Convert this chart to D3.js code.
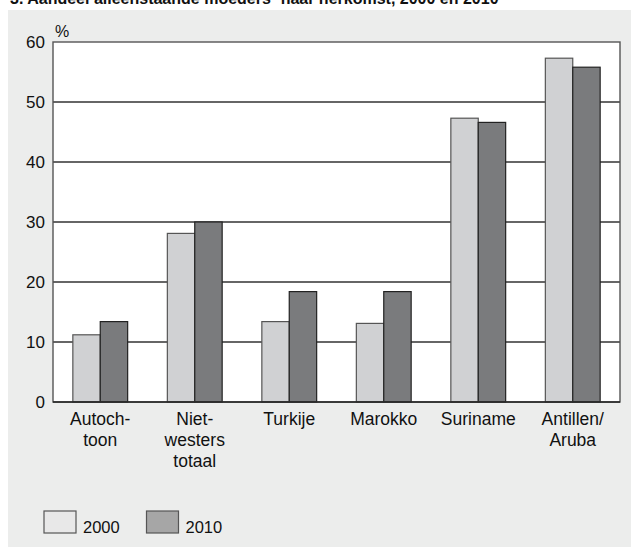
<!DOCTYPE html>
<html><head><meta charset="utf-8">
<script src="https://cdn.jsdelivr.net/npm/d3@7"></script>
<style>body{margin:0;background:#fff;}svg{display:block;font-family:"Liberation Sans",Arial,sans-serif;}</style>
</head><body>
<svg id="c" width="631" height="547"></svg>
<script>
const categories = [["Autoch-","toon"],["Niet-","westers","totaal"],["Turkije"],["Marokko"],["Suriname"],["Antillen/","Aruba"]];
const series = ["2000","2010"];
const values2000 = [11.2, 28.1, 13.4, 13.1, 47.3, 57.3];
const values2010 = [13.4, 30.0, 18.4, 18.4, 46.6, 55.8];
const yTicks = [0,10,20,30,40,50,60];

const svg = d3.select("#c");
svg.append("text").attr("x",10).attr("y",4).attr("font-weight","bold").attr("font-size",16).attr("fill","#111")
  .text("3. Aandeel alleenstaande moeders¹ naar herkomst, 2000 en 2010");
svg.append("rect").attr("x",8).attr("y",10).attr("width",623).attr("height",537).attr("fill","#ecedec");

const L=53,R=620,T=42,B=402;
const x0 = d3.scaleBand().domain(d3.range(categories.length)).range([L,R]).paddingInner(0.42).paddingOuter(0.21);
const x1 = d3.scaleBand().domain(series).range([0,x0.bandwidth()]);
const y = d3.scaleLinear().domain([0,60]).range([B,T]);

svg.append("rect").attr("x",L).attr("y",T).attr("width",R-L).attr("height",B-T).attr("fill","#fff");
svg.append("g").selectAll("line").data(yTicks.filter(d=>d>0&&d<60)).join("line")
  .attr("x1",L).attr("x2",R).attr("y1",d=>y(d)).attr("y2",d=>y(d)).attr("stroke","#333").attr("stroke-width",1.3);

const fills = {"2000":"#d0d1d3","2010":"#7a7b7d"};
const strokes = {"2000":"#555","2010":"#222"};
const rows = categories.map((c,i)=>({i, vals:[{s:"2000",v:values2000[i]},{s:"2010",v:values2010[i]}]}));
const g = svg.append("g").selectAll("g").data(rows).join("g").attr("transform",d=>`translate(${x0(d.i)},0)`);
g.selectAll("rect").data(d=>d.vals).join("rect")
  .attr("x",d=>x1(d.s)).attr("width",x1.bandwidth()).attr("y",d=>y(d.v)).attr("height",d=>y(0)-y(d.v))
  .attr("fill",d=>fills[d.s]).attr("stroke",d=>strokes[d.s]).attr("stroke-width",1.2);

svg.append("rect").attr("x",L).attr("y",T).attr("width",R-L).attr("height",B-T).attr("fill","none").attr("stroke","#555").attr("stroke-width",1.4);
svg.append("line").attr("x1",L).attr("x2",R).attr("y1",B).attr("y2",B).attr("stroke","#222").attr("stroke-width",1.6);

const yAxis = d3.axisLeft(y).tickValues(yTicks).tickSize(0).tickPadding(8);
const ya = svg.append("g").attr("transform",`translate(${L},0)`).call(yAxis);
ya.select(".domain").remove();
ya.selectAll("text").attr("font-size",17).attr("fill","#111").attr("font-family","Liberation Sans, Arial, sans-serif");
svg.append("text").attr("x",55).attr("y",37).attr("font-size",16).attr("fill","#111").text("%");

const xl = svg.append("g").selectAll("text").data(rows).join("text")
  .attr("x",d=>x0(d.i)+x0.bandwidth()/2).attr("y",425).attr("text-anchor","middle").attr("font-size",17.5).attr("fill","#111");
xl.selectAll("tspan").data(d=>categories[d.i]).join("tspan")
  .attr("x",function(){return this.parentNode.getAttribute("x");}).attr("dy",(d,j)=>j===0?0:20.8).text(d=>d);

const legFill = {"2000":"#e8e8e8","2010":"#a6a6a6"};
const lg = svg.append("g").selectAll("g").data(series).join("g").attr("transform",(d,i)=>`translate(${44+i*102.5},511)`);
lg.append("rect").attr("width",32).attr("height",22).attr("fill",d=>legFill[d]).attr("stroke","#555").attr("stroke-width",1.2);
lg.append("text").attr("x",39).attr("y",22).attr("font-size",16.5).attr("fill","#111").text(d=>d);
</script>
</body></html>
